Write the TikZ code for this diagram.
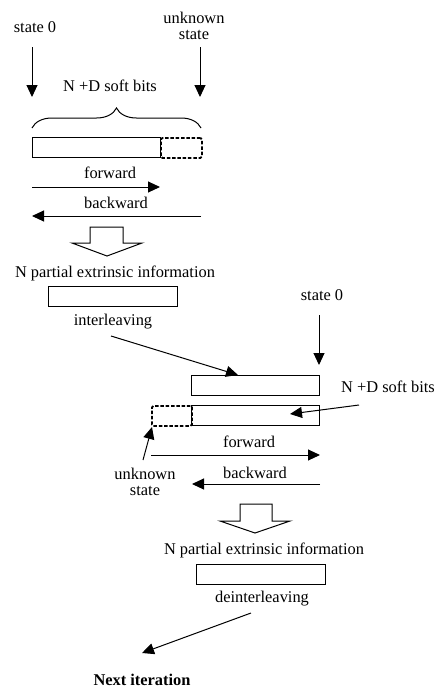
\documentclass[tikz,border=0pt]{standalone}
\usepackage{fontspec}
\setmainfont{Liberation Serif}
\usetikzlibrary{arrows.meta,decorations.pathreplacing}
\tikzset{
 lbl/.style={inner sep=0pt, font=\fontsize{16.4}{16}\selectfont, align=center},
 arr/.style={-{Triangle[length=12pt,width=11pt]}, line width=1pt},
 box/.style={draw, line width=1.1pt, inner sep=0pt, anchor=north west},
 dbox/.style={draw, dash pattern=on 3.5pt off 1.8pt, line width=1.8pt, rounded corners=1.5pt, inner sep=0pt, anchor=north west},
 hollow/.style={draw, line width=1pt, fill=white}
}
\begin{document}
\begin{tikzpicture}[x=1pt,y=-1pt]
\useasboundingbox (0,0) rectangle (438,691);
% ---- first decoder ----
\node[lbl] (s0a) at (35,27) {state 0};
\node[lbl] (unk1) at (194,26) {unknown\\state};
\coordinate (a1s) at (32,47); \coordinate (a1e) at (32,97);
\coordinate (a2s) at (200,47); \coordinate (a2e) at (200,97);
\draw[arr] (a1s) -- (a1e);
\draw[arr] (a2s) -- (a2e);
\node[lbl] (nd1) at (110,86) {N +D soft bits};
\coordinate (brl) at (32,128); \coordinate (brr) at (201,128);
\draw[line width=1pt, decorate, decoration={brace, amplitude=20pt}] (brl) -- (brr);
\node[box, minimum width=128pt, minimum height=20pt] (r1) at (32,137) {};
\node[dbox, minimum width=41pt, minimum height=20pt] (r1d) at (160,137) {};
\node[lbl] (fw1) at (110,173) {forward};
\coordinate (f1s) at (32,187); \coordinate (f1e) at (160,187);
\draw[arr] (f1s) -- (f1e);
\node[lbl] (bw1) at (116,203) {backward};
\coordinate (b1s) at (201,216); \coordinate (b1e) at (32,216);
\draw[arr] (b1s) -- (b1e);
\draw[hollow] (90,227) -- (123,227) -- (123,243) -- (142,243) -- (107,256) -- (72,243) -- (90,243) -- cycle;
\node[lbl] (pe1) at (115,273) {N partial extrinsic information};
\node[box, minimum width=129pt, minimum height=20pt] (r2) at (48,286) {};
\node[lbl] (il) at (113,322) {interleaving};
\coordinate (i1s) at (111,336); \coordinate (i1e) at (238,375);
\draw[arr] (i1s) -- (i1e);
% ---- second decoder ----
\node[lbl] (s0b) at (322,295) {state 0};
\coordinate (a3s) at (319,315); \coordinate (a3e) at (319,365);
\draw[arr] (a3s) -- (a3e);
\node[box, minimum width=128pt, minimum height=20pt] (r3) at (191,375) {};
\node[lbl] (nd2) at (388,387) {N +D soft bits};
\coordinate (n2s) at (359,405); \coordinate (n2e) at (290,414);
\draw[arr] (n2s) -- (n2e);
\node[box, minimum width=128pt, minimum height=20pt] (r4) at (191,405) {};
\node[dbox, minimum width=40pt, minimum height=20pt] (r4d) at (151,405) {};
\coordinate (u2s) at (143,460); \coordinate (u2e) at (152,427);
\draw[arr] (u2s) -- (u2e);
\node[lbl] (fw2) at (249,442) {forward};
\coordinate (f2s) at (151,455); \coordinate (f2e) at (320,455);
\draw[arr] (f2s) -- (f2e);
\node[lbl] (unk2) at (145,482) {unknown\\state};
\node[lbl] (bw2) at (255,473) {backward};
\coordinate (b2s) at (320,484); \coordinate (b2e) at (192,484);
\draw[arr] (b2s) -- (b2e);
\draw[hollow] (240,504) -- (272,504) -- (272,521) -- (290,521) -- (255,533) -- (220,521) -- (240,521) -- cycle;
\node[lbl] (pe2) at (264,550) {N partial extrinsic information};
\node[box, minimum width=129pt, minimum height=20pt] (r5) at (196,564) {};
\node[lbl] (dil) at (262,599) {deinterleaving};
\coordinate (d1s) at (251,613); \coordinate (d1e) at (142,653);
\draw[arr] (d1s) -- (d1e);
\node[lbl, font=\fontsize{16.4}{16}\selectfont\bfseries] (nxt) at (142,680) {Next iteration};
\end{tikzpicture}
\end{document}
